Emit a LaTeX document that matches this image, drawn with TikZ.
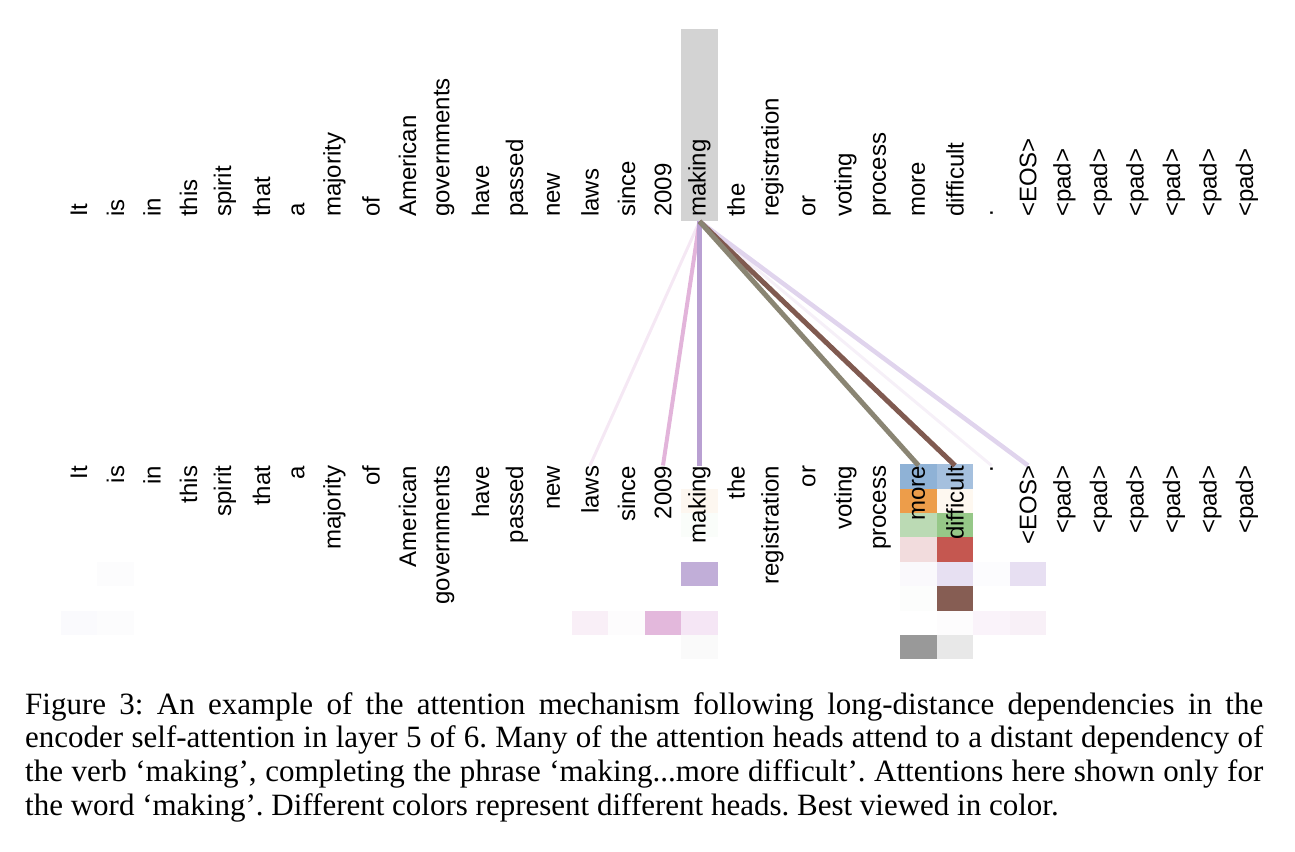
\documentclass[tikz,border=0pt]{standalone}
\usepackage{fontspec}
\setmainfont{Liberation Serif}
\newfontfamily\wordfont{Liberation Sans}
\frenchspacing
\definecolor{hlgray}{RGB}{211,211,211}
\definecolor{lnLaws}{RGB}{245,232,244}
\definecolor{lnYear}{RGB}{226,180,218}
\definecolor{lnMaking}{RGB}{185,160,210}
\definecolor{lnMore}{RGB}{138,133,115}
\definecolor{lnDiff}{RGB}{128,90,80}
\definecolor{lnDot}{RGB}{246,240,248}
\definecolor{lnEOS}{RGB}{224,212,237}
\tikzset{
  word/.style={font=\wordfont\fontsize{24}{28}\selectfont, inner sep=0pt, rotate=90},
  cell/.style={inner sep=0pt, minimum width=36.5pt, minimum height=24.4pt, anchor=north},
  attn/.style={line cap=butt}
}
\begin{document}
\begin{tikzpicture}[x=1pt,y=-1pt]
\useasboundingbox (0,0) rectangle (1295,851);
% heat cells: col/row/R/G/B
\foreach \c/\r/\R/\G/\B [count=\k] in {
 23/0/143/178/214, 24/0/165/192/222,
 17/1/253/247/240, 23/1/237/157/74, 24/1/254/248/240,
 17/2/250/253/250, 23/2/187/218/180, 24/2/150/200/136,
 23/3/242/220/221, 24/3/197/87/80,
 1/4/252/252/253, 17/4/193/174/216, 23/4/250/249/252, 24/4/231/224/242, 25/4/252/252/254, 26/4/231/223/242,
 23/5/252/253/252, 24/5/134/93/83,
 0/6/250/250/253, 1/6/252/252/253, 14/6/249/239/247, 15/6/253/252/253, 16/6/227/184/220, 17/6/245/230/245, 24/6/253/252/253, 25/6/250/243/250, 26/6/248/240/247,
 17/7/250/250/250, 23/7/153/153/153, 24/7/232/232/232}{
  \definecolor{cellc}{RGB}{\R,\G,\B}
  \node[cell, fill=cellc] (cell\k) at ({79+\c*36.5}, {464+\r*24.4}) {};
}
% highlight of the query word
\node[fill=hlgray, inner sep=0pt, minimum width=37pt, minimum height=192pt, anchor=north] (hl) at (699.5,29) {};
% words
\foreach \w [count=\i from 0] in {It,is,in,this,spirit,that,a,majority,of,American,governments,have,passed,new,laws,since,2009,making,the,registration,or,voting,process,more,difficult,.,<EOS>,<pad>,<pad>,<pad>,<pad>,<pad>,<pad>}{
  \node[word, anchor=west] (t\i) at ({79+\i*36.5}, 217) {\w};
  \node[word, anchor=east] (b\i) at ({79+\i*36.5}, 465.5) {\w};
}
% attention lines
\draw[attn, line width=3pt, lnDot] (hl.south) -- (b25.east);
\draw[attn, line width=3pt, lnLaws] (hl.south) -- (b14.east);
\draw[attn, line width=4.5pt, lnEOS] (hl.south) -- (b26.east);
\draw[attn, line width=4pt, lnYear] (hl.south) -- (b16.east);
\draw[attn, line width=4.5pt, lnMaking] (hl.south) -- (b17.east);
\draw[attn, line width=5pt, lnDiff] (hl.south) -- (b24.east);
\draw[attn, line width=5pt, lnMore] (hl.south) -- (b23.east);
% caption
\node[anchor=north west, inner sep=0pt, text width=1238pt, align=justify,
      font=\fontsize{31}{33.8}\selectfont] (cap) at (25,692) {Figure 3: An example of the attention mechanism following long-distance dependencies in the\linebreak encoder self-attention in layer 5 of 6. Many of the attention heads attend to a distant dependency of\linebreak the verb ‘making’, completing the phrase ‘making...more difficult’. Attentions here shown only for\linebreak the word ‘making’. Different colors represent different heads. Best viewed in color.};
\end{tikzpicture}
\end{document}
